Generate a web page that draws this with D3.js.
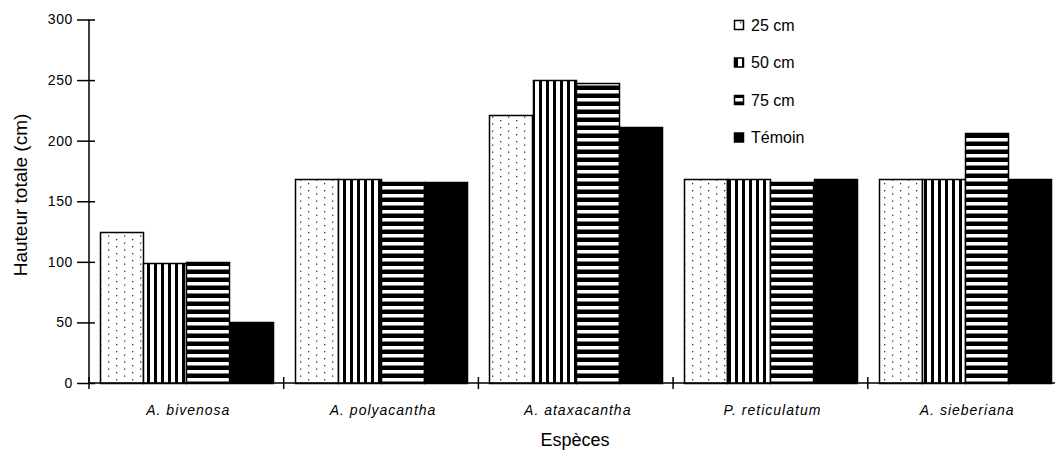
<!DOCTYPE html>
<html>
<head>
<meta charset="utf-8">
<script src="https://cdn.jsdelivr.net/npm/d3@7/dist/d3.min.js"></script>
<style>
  html, body { margin: 0; padding: 0; background: #fff; }
  svg { display: block; }
  text { font-family: "Liberation Sans", Arial, sans-serif; fill: #000; }
</style>
</head>
<body>
<svg id="chart" width="1055" height="462"></svg>
<script>
const categories = ["A. bivenosa", "A. polyacantha", "A. ataxacantha", "P. reticulatum", "A. sieberiana"];
const seriesNames = ["25 cm", "50 cm", "75 cm", "Témoin"];
const values25 = [125, 168, 221, 168, 168];
const values50 = [99, 168, 250, 168, 168];
const values75 = [100, 166, 248, 166, 206];
const valuesTemoin = [50, 166, 211, 168, 168];
const yTicks = [0, 50, 100, 150, 200, 250, 300];
const yTitle = "Hauteur totale (cm)";
const xTitle = "Espèces";

const seriesValues = [values25, values50, values75, valuesTemoin];
const fills = ["url(#pDots)", "url(#pVert)", "url(#pHoriz)", "#000"];

const svg = d3.select("#chart");
const defs = svg.append("defs");

// dotted pattern
const pd = defs.append("pattern").attr("id", "pDots").attr("patternUnits", "userSpaceOnUse")
  .attr("width", 16).attr("height", 7);
pd.append("rect").attr("width", 16).attr("height", 7).attr("fill", "#fff");
pd.append("rect").attr("x", 4).attr("y", 1).attr("width", 1.3).attr("height", 1.3).attr("fill", "#333");
pd.append("rect").attr("x", 12).attr("y", 4.5).attr("width", 1.3).attr("height", 1.3).attr("fill", "#333");

// vertical stripes
const pv = defs.append("pattern").attr("id", "pVert").attr("patternUnits", "userSpaceOnUse")
  .attr("width", 7).attr("height", 10);
pv.append("rect").attr("width", 7).attr("height", 10).attr("fill", "#fff");
pv.append("rect").attr("x", 0).attr("width", 3).attr("height", 10).attr("fill", "#000");

// horizontal stripes
const ph = defs.append("pattern").attr("id", "pHoriz").attr("patternUnits", "userSpaceOnUse")
  .attr("width", 10).attr("height", 8);
ph.append("rect").attr("width", 10).attr("height", 8).attr("fill", "#000");
ph.append("rect").attr("y", 2).attr("width", 10).attr("height", 3.5).attr("fill", "#fff");

const x0 = 89, bandW = 194.7;
const x = d3.scaleBand().domain(categories).range([x0, x0 + bandW * categories.length]).padding(0);
const xs = d3.scaleBand().domain(seriesNames).range([11, bandW - 11]).padding(0);
const y = d3.scaleLinear().domain([0, 300]).range([383, 19.5]);

// bars
const g = svg.append("g");
categories.forEach((c, ci) => {
  seriesNames.forEach((s, si) => {
    const v = seriesValues[si][ci];
    g.append("rect")
      .attr("x", Math.round(x(c) + xs(s)) + 0.5)
      .attr("y", Math.round(y(v)) + 0.5)
      .attr("width", Math.round(xs.bandwidth()))
      .attr("height", Math.round(y(0)) - Math.round(y(v)))
      .attr("fill", fills[si])
      .attr("stroke", "#000")
      .attr("stroke-width", 1.5);
  });
});

// y axis
const yAxis = svg.append("g").attr("transform", `translate(${x0},0)`)
  .call(d3.axisLeft(y).tickValues(yTicks).tickSize(12).tickPadding(4));
yAxis.select(".domain").remove();
yAxis.selectAll(".tick line").attr("x1", 6).attr("stroke", "#000").attr("stroke-width", 1.5);
yAxis.selectAll(".tick text").attr("font-size", 14).attr("font-family", "Liberation Sans, Arial, sans-serif")
  .attr("letter-spacing", 0.6);
svg.append("line").attr("x1", x0).attr("x2", x0).attr("y1", y(300)).attr("y2", y(0))
  .attr("stroke", "#000").attr("stroke-width", 1.5);

// x axis
svg.append("line").attr("x1", x0).attr("x2", x.range()[1]).attr("y1", y(0)).attr("y2", y(0))
  .attr("stroke", "#000").attr("stroke-width", 1.5);
const bounds = categories.map(c => x(c)).concat([x.range()[1]]);
svg.append("g").selectAll("line").data(bounds).join("line")
  .attr("x1", d => d).attr("x2", d => d)
  .attr("y1", y(0) - 6).attr("y2", y(0) + 6)
  .attr("stroke", "#000").attr("stroke-width", 1.5);

svg.append("g").selectAll("text").data(categories).join("text")
  .attr("x", d => x(d) + bandW / 2 + 2)
  .attr("y", 415)
  .attr("text-anchor", "middle")
  .attr("font-size", 14)
  .attr("font-style", "italic")
  .attr("letter-spacing", 1)
  .text(d => d);

// titles
svg.append("text").attr("transform", `translate(27,195) rotate(-90)`)
  .attr("text-anchor", "middle").attr("font-size", 19).text(yTitle);
svg.append("text").attr("x", 575).attr("y", 446).attr("text-anchor", "middle")
  .attr("font-size", 18).text(xTitle);

// legend
const legY = [25, 62.5, 100, 137.5];
const leg = svg.append("g");
seriesNames.forEach((s, i) => {
  leg.append("rect").attr("x", 734.5).attr("y", legY[i] - 4.5).attr("width", 9).attr("height", 9)
    .attr("fill", fills[i]).attr("stroke", "#000").attr("stroke-width", 1.5);
  leg.append("text").attr("x", 751).attr("y", legY[i]).attr("dy", "0.36em")
    .attr("font-size", 16).text(s);
});
</script>
</body>
</html>
